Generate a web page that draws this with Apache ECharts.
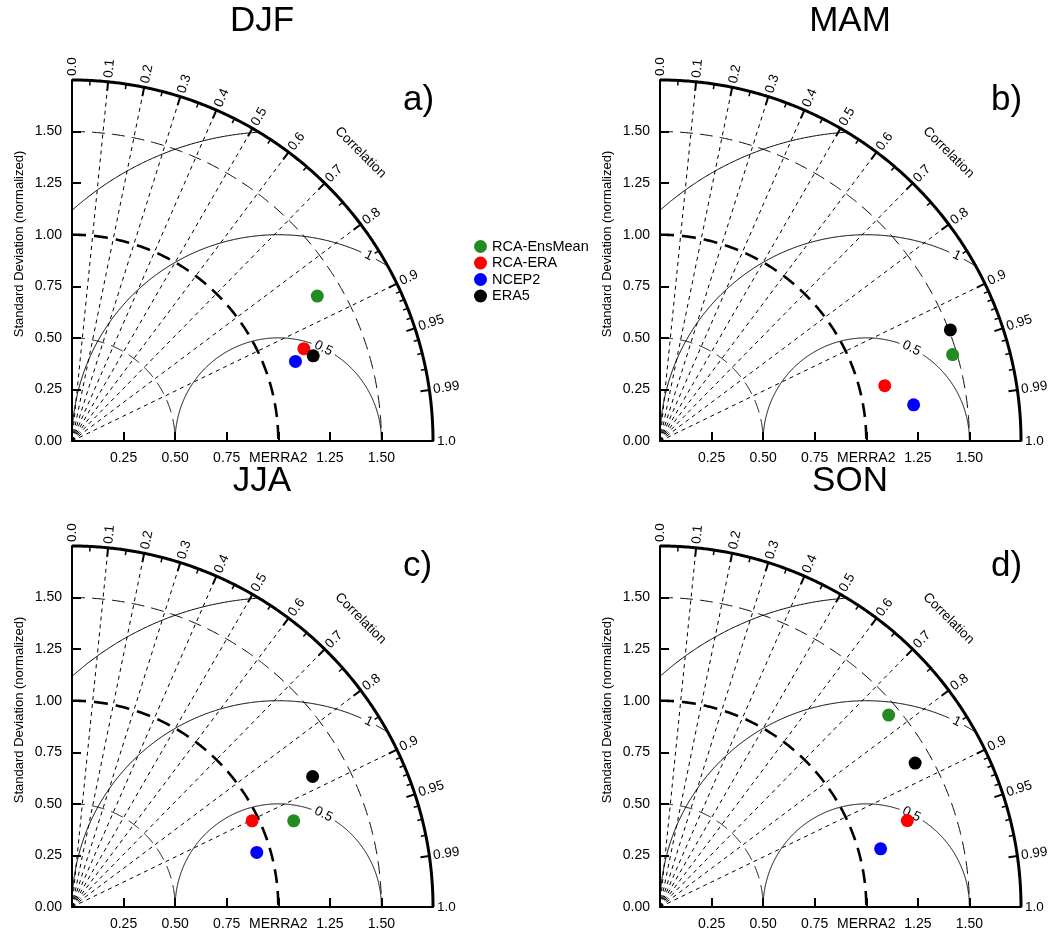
<!DOCTYPE html>
<html><head><meta charset="utf-8">
<script src="https://cdn.jsdelivr.net/npm/echarts@6/dist/echarts.min.js"></script>
<style>html,body{margin:0;padding:0;background:#fff}#c{width:1057px;height:933px}</style>
</head><body><div id="c"></div>
<script>
// ---------- data ----------
const seasons = ['DJF', 'MAM', 'JJA', 'SON'];
const panelTags = ['a)', 'b)', 'c)', 'd)'];
const modelNames = ['RCA-EnsMean', 'RCA-ERA', 'NCEP2', 'ERA5'];
// normalized standard deviation, per season DJF, MAM, JJA, SON
const stdEnsMean = [1.381, 1.479, 1.153, 1.447];
const stdRcaEra  = [1.210, 1.122, 0.968, 1.270];
const stdNcep2   = [1.150, 1.242, 0.934, 1.106];
const stdEra5    = [1.240, 1.507, 1.327, 1.420];
// correlation with MERRA2, per season
const corrEnsMean = [0.861, 0.959, 0.932, 0.766];
const corrRcaEra  = [0.929, 0.971, 0.902, 0.944];
const corrNcep2   = [0.942, 0.990, 0.959, 0.967];
const corrEra5    = [0.943, 0.934, 0.879, 0.871];

const yTickLabels = ['0.00', '0.25', '0.50', '0.75', '1.00', '1.25', '1.50', ''];
const xTickLabels = ['', '0.25', '0.50', '0.75', 'MERRA2', '1.25', '1.50', ''];
const corrMajor = [0.0, 0.1, 0.2, 0.3, 0.4, 0.5, 0.6, 0.7, 0.8, 0.9, 0.95, 0.99, 1.0];
const corrMajorLabels = ['0.0', '0.1', '0.2', '0.3', '0.4', '0.5', '0.6', '0.7', '0.8', '0.9', '0.95', '0.99', '1.0'];
const corrMinor = [0.05, 0.15, 0.25, 0.35, 0.45, 0.55, 0.65, 0.75, 0.85, 0.91, 0.92, 0.93, 0.94, 0.96, 0.97, 0.98];
const corrRadials = [0.1, 0.2, 0.3, 0.4, 0.5, 0.6, 0.7, 0.8, 0.9];
const stdArcs = [0.5, 1.0, 1.5];
const rmsArcs = [0.5, 1.0, 1.5];
const rmsLabels = ['0.5', '1', '1.5'];
const maxStd = 1.75;
const refStd = 1.0;

const stdData = [stdEnsMean, stdRcaEra, stdNcep2, stdEra5];
const corrData = [corrEnsMean, corrRcaEra, corrNcep2, corrEra5];

// ---------- style / layout ----------
const FONT = '"Liberation Sans", Arial, Helvetica, sans-serif';
const modelColors = ['#228B22', '#FF0000', '#0000FF', '#000000'];
const gridPos = [[72, 80], [660, 80], [72, 546], [660, 546]];
const SIZE = 361;

const chart = echarts.init(document.getElementById('c'), null, { renderer: 'canvas' });

function makeRender() {
  return function (params, api) {
    const P = (x, y) => api.coord([x, y]);
    const scale = api.size([1, 0])[0];
    const pol = (r, th) => P(r * Math.cos(th), r * Math.sin(th));
    const ch = [];
    const line = (pts, w, dash) => ch.push({
      type: 'polyline', shape: { points: pts },
      style: { stroke: '#000', fill: 'none', lineWidth: w, lineDash: dash || null, lineCap: 'butt' }
    });
    // standard deviation arcs (around origin)
    stdArcs.forEach(r => {
      const pts = [];
      for (let k = 0; k <= 360; k++) pts.push(pol(r, (90 - k / 4) * Math.PI / 180));
      if (r === refStd) line(pts, 2.6, [14, 8]); else line(pts, 1, [13, 7]);
    });
    // correlation radials
    corrRadials.forEach(c => {
      const th = Math.acos(c);
      line([pol(0, th), pol(maxStd, th)], 1, [4, 4]);
    });
    // RMS arcs around reference point
    const labelAng = 64 * Math.PI / 180;
    rmsArcs.forEach((r, i) => {
      const lx = refStd + r * Math.cos(labelAng), ly = r * Math.sin(labelAng);
      const hasLabel = Math.hypot(lx, ly) < maxStd;
      const txtW = rmsLabels[i].length * 7.2 - (rmsLabels[i].indexOf('.') >= 0 ? 3.6 : 0);
      const half = (txtW / 2 + 4) / (r * scale);
      let seg = [];
      for (let k = 0; k <= 720; k++) {
        const phi = Math.PI - k / 720 * Math.PI;
        const x = refStd + r * Math.cos(phi), y = r * Math.sin(phi);
        const inside = Math.hypot(x, y) <= maxStd + 1e-9 && x >= -1e-9;
        const inGap = hasLabel && Math.abs(phi - labelAng) < half;
        if (inside && !inGap) seg.push(P(x, y));
        else { if (seg.length > 1) line(seg, 1); seg = []; }
      }
      if (seg.length > 1) line(seg, 1);
      if (hasLabel) {
        const p = P(lx, ly);
        ch.push({ type: 'text', x: p[0], y: p[1], rotation: labelAng - Math.PI / 2,
          style: { text: rmsLabels[i], fill: '#000', font: '13.5px ' + FONT, align: 'center', verticalAlign: 'middle' } });
      }
    });
    // outer arc
    const outer = [];
    for (let k = 0; k <= 360; k++) outer.push(pol(maxStd, k / 4 * Math.PI / 180));
    line(outer, 3);
    // ticks
    corrMajor.forEach((c, i) => {
      const th = Math.acos(c);
      line([pol(maxStd, th), pol(maxStd - 9 / scale, th)], 2);
      const p = pol(maxStd + 4 / scale, th);
      ch.push({ type: 'text', x: p[0], y: p[1], rotation: th,
        style: { text: corrMajorLabels[i], fill: '#000', font: '13.5px ' + FONT, align: 'left', verticalAlign: 'middle' } });
    });
    corrMinor.forEach(c => {
      const th = Math.acos(c);
      line([pol(maxStd, th), pol(maxStd - 5 / scale, th)], 1.5);
    });
    // "Correlation" label
    const cp = pol(maxStd + 47 / scale, Math.PI / 4);
    ch.push({ type: 'text', x: cp[0], y: cp[1], rotation: -Math.PI / 4,
      style: { text: 'Correlation', fill: '#000', font: '13.5px ' + FONT, align: 'center', verticalAlign: 'middle' } });
    return { type: 'group', children: ch };
  };
}

const grid = [], xAxis = [], yAxis = [], series = [], graphic = [];
seasons.forEach((s, p) => {
  grid.push({ left: gridPos[p][0], top: gridPos[p][1], width: SIZE, height: SIZE, containLabel: false });
  const axisCommon = {
    type: 'value', gridIndex: p, min: 0, max: maxStd, interval: 0.25,
    axisLine: { show: true, lineStyle: { color: '#000', width: 2 } },
    axisTick: { show: true, inside: true, length: 9, lineStyle: { color: '#000', width: 2 } },
    splitLine: { show: false },
  };
  xAxis.push(Object.assign({}, axisCommon, {
    axisLabel: { margin: 10, color: '#000', fontSize: 14, fontFamily: FONT,
      formatter: v => xTickLabels[Math.round(v / 0.25)] }
  }));
  yAxis.push(Object.assign({}, axisCommon, {
    axisLabel: { margin: 10, color: '#000', fontSize: 14, fontFamily: FONT,
      formatter: v => yTickLabels[Math.round(v / 0.25)] }
  }));
  series.push({ type: 'custom', xAxisIndex: p, yAxisIndex: p, data: [[0, 0]], silent: true, z: 1,
    renderItem: makeRender() });
  modelNames.forEach((m, k) => {
    const sd = stdData[k][p], c = corrData[k][p];
    series.push({ type: 'scatter', name: m, xAxisIndex: p, yAxisIndex: p, z: 5,
      symbol: 'circle', symbolSize: 13, itemStyle: { color: modelColors[k], opacity: 1 },
      data: [[sd * c, sd * Math.sqrt(1 - c * c)]] });
  });
  const gx = gridPos[p][0], gy = gridPos[p][1];
  graphic.push({ type: 'text', x: gx + 190, y: gy - (p < 2 ? 59 : 65), style: { text: s, fill: '#000', font: '35px ' + FONT, align: 'center', verticalAlign: 'middle' } });
  graphic.push({ type: 'text', x: gx + 331, y: gy + 20, style: { text: panelTags[p], fill: '#000', font: '35px ' + FONT, align: 'left', verticalAlign: 'middle' } });
  graphic.push({ type: 'text', x: gx - 52.5, y: gy + 164, rotation: Math.PI / 2, style: { text: 'Standard Deviation (normalized)', fill: '#000', font: '13px ' + FONT, align: 'center', verticalAlign: 'middle' } });
});

chart.setOption({
  backgroundColor: '#fff',
  animation: false,
  grid, xAxis, yAxis, series, graphic,
  legend: {
    data: modelNames, orient: 'vertical', left: 474, top: 239, padding: 0,
    itemWidth: 13, itemHeight: 13, itemGap: 1.5, icon: 'circle',
    textStyle: { color: '#000', fontSize: 14.5, fontFamily: FONT, lineHeight: 14 },
    selectedMode: false
  }
});
</script></body></html>
